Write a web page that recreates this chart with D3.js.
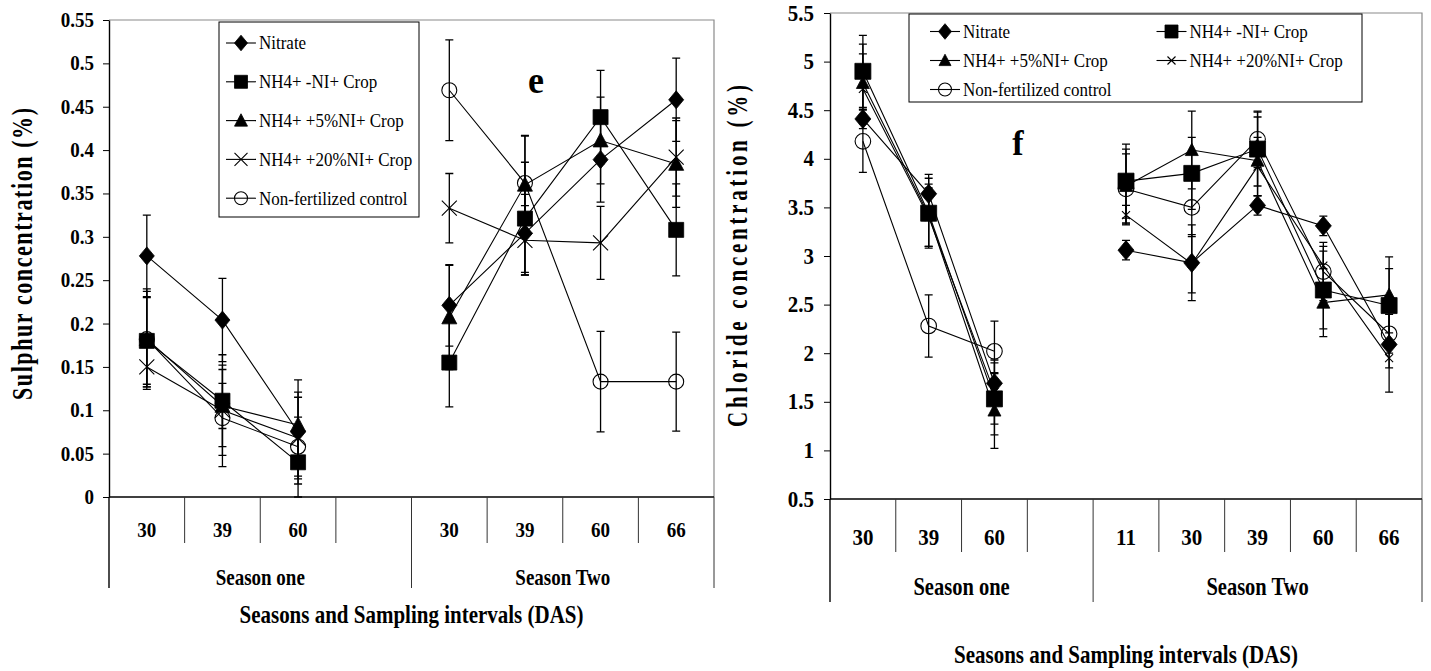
<!DOCTYPE html>
<html lang="en">
<head>
<meta charset="UTF-8">
<title>Sulphur and chloride concentration by season and sampling interval</title>
<script src="https://d3js.org/d3.v7.min.js"></script>
<style>
  body { margin: 0; background: #fff; }
  svg text { font-family: "Liberation Serif", "Times New Roman", serif !important; fill: #000; }
</style>
</head>
<body>
<svg id="chart" width="1431" height="671"></svg>
<script>
// ---- data ----
const seriesNames = ["Nitrate", "NH4+ -NI+ Crop", "NH4+ +5%NI+ Crop", "NH4+ +20%NI+ Crop", "Non-fertilized control"];
const seriesMarkers = ["diamond", "square", "triangle", "cross", "circle"];

// panel e : sulphur
const sulphurCategories = ["30", "39", "60", "", "30", "39", "60", "66"];
const sulphurSeasons = ["Season one", "Season Two"];
const sulphurSeasonSizes = [4, 4];
const sulphurTicks = [0, 0.05, 0.1, 0.15, 0.2, 0.25, 0.3, 0.35, 0.4, 0.45, 0.5, 0.55];
const sulphurTickLabels = ["0", "0.05", "0.1", "0.15", "0.2", "0.25", "0.3", "0.35", "0.4", "0.45", "0.5", "0.55"];
const sulphurValues = [
  [0.278, 0.204, 0.075, null, 0.221, 0.304, 0.389, 0.458],
  [0.180, 0.111, 0.040, null, 0.155, 0.321, 0.438, 0.308],
  [0.182, 0.105, 0.083, null, 0.207, 0.360, 0.411, 0.384],
  [0.150, 0.100, 0.068, null, 0.333, 0.296, 0.293, 0.392],
  [0.182, 0.091, 0.058, null, 0.469, 0.362, 0.133, 0.133]
];
const sulphurErrors = [
  [0.047, 0.048, 0.060, null, 0.047, 0.045, 0.049, 0.048],
  [0.050, 0.053, 0.040, null, 0.051, 0.065, 0.054, 0.053],
  [0.058, 0.026, 0.038, null, 0.060, 0.056, 0.050, 0.050],
  [0.023, 0.052, 0.047, null, 0.040, 0.040, 0.042, 0.045],
  [0.055, 0.056, 0.034, null, 0.058, 0.055, 0.058, 0.057]
];

// panel f : chloride
const chlorideCategories = ["30", "39", "60", "", "11", "30", "39", "60", "66"];
const chlorideSeasons = ["Season one", "Season Two"];
const chlorideSeasonSizes = [4, 5];
const chlorideTicks = [0.5, 1, 1.5, 2, 2.5, 3, 3.5, 4, 4.5, 5, 5.5];
const chlorideTickLabels = ["0.5", "1", "1.5", "2", "2.5", "3", "3.5", "4", "4.5", "5", "5.5"];
const chlorideValues = [
  [4.41, 3.64, 1.69, null, 3.06, 2.93, 3.52, 3.31, 2.09],
  [4.90, 3.44, 1.53, null, 3.77, 3.85, 4.10, 2.65, 2.49],
  [4.78, 3.42, 1.41, null, 3.72, 4.09, 3.98, 2.52, 2.60],
  [4.72, 3.40, 1.60, null, 3.42, 2.92, 3.92, 2.90, 1.95],
  [4.18, 2.28, 2.02, null, 3.69, 3.50, 4.20, 2.84, 2.20]
];
const chlorideErrors = [
  [0.10, 0.20, 0.10, null, 0.10, 0.39, 0.10, 0.10, 0.49],
  [0.37, 0.36, 0.37, null, 0.38, 0.37, 0.38, 0.40, 0.38],
  [0.40, 0.32, 0.39, null, 0.38, 0.40, 0.45, 0.35, 0.39],
  [0.36, 0.30, 0.33, null, 0.10, 0.30, 0.30, 0.20, 0.10],
  [0.32, 0.32, 0.31, null, 0.36, 0.30, 0.29, 0.30, 0.20]
];

// ---- drawing ----
const svg = d3.select("#chart");

// the source figure uses a tall, narrow serif: stretch glyphs vertically around their centre
function stretch(sel, k) {
  sel.style("transform-box", "fill-box")
    .style("transform-origin", "center")
    .style("transform", `scaleY(${k})`);
}

function markerPath(type, s) {
  if (type === "diamond") return `M0,${-s * 1.2}L${s},0L0,${s * 1.2}L${-s},0Z`;
  if (type === "square") return `M${-s},${-s}h${2 * s}v${2 * s}h${-2 * s}Z`;
  if (type === "triangle") return `M0,${-s * 1.05}L${s},${s * 0.85}L${-s},${s * 0.85}Z`;
  if (type === "cross") return `M${-s},${-s}L${s},${s}M${s},${-s}L${-s},${s}`;
  return `M${s},0A${s},${s} 0 1,1 ${-s},0A${s},${s} 0 1,1 ${s},0Z`;
}

function drawMarker(g, type, x, y, size) {
  const filled = type === "diamond" || type === "square" || type === "triangle";
  g.append("path")
    .attr("transform", `translate(${x},${y})`)
    .attr("d", markerPath(type, size[type]))
    .attr("fill", filled ? "#000" : "none")
    .attr("stroke", "#000")
    .attr("stroke-width", filled ? 0.8 : 1.1);
}

function drawPanel(p) {
  const g = svg.append("g");
  const n = p.categories.length;

  const x = d3.scaleBand().domain(d3.range(n)).range([p.left, p.right]).padding(0);
  const y = d3.scaleLinear().domain(p.domain).range([p.bottom, p.top]);

  // frame: grey top and right
  g.append("path")
    .attr("d", `M${p.left},${p.top}H${p.right}V${p.bottom}`)
    .attr("fill", "none").attr("stroke", "#8a8a8a").attr("stroke-width", 1.2);

  // y axis
  const yAxis = g.append("g")
    .attr("transform", `translate(${p.left},0)`)
    .call(d3.axisLeft(y).tickValues(p.ticks)
      .tickFormat((d, i) => p.tickLabels[i])
      .tickSize(6).tickSizeOuter(0).tickPadding(p.tickPad));
  yAxis.select(".domain").attr("stroke", "#000").attr("stroke-width", 1.4);
  yAxis.selectAll("text")
    .attr("font-size", p.tickFont).attr("font-weight", "bold")
    .call(stretch, 1.06);

  // x axis line
  g.append("line")
    .attr("x1", p.left).attr("x2", p.right)
    .attr("y1", p.bottom).attr("y2", p.bottom)
    .attr("stroke", "#000").attr("stroke-width", 1.4);

  // category labels
  const cx = i => x(i) + x.bandwidth() / 2;
  g.selectAll(".cat")
    .data(p.categories)
    .join("text")
    .attr("class", "cat")
    .attr("x", (d, i) => cx(i)).attr("y", p.bottom + p.catLabelOffset)
    .attr("text-anchor", "middle").attr("dominant-baseline", "central")
    .attr("font-size", p.catFont).attr("font-weight", "bold")
    .text(d => d)
    .call(stretch, 1.1);

  // separators between categories, long ones between seasons
  const seasonEdges = [0];
  p.seasonSizes.forEach(s => seasonEdges.push(seasonEdges[seasonEdges.length - 1] + s));
  for (let i = 0; i <= n; i++) {
    const xx = i === n ? p.right : x(i);
    const long = seasonEdges.includes(i);
    g.append("line")
      .attr("x1", xx).attr("x2", xx)
      .attr("y1", p.bottom).attr("y2", long ? p.seasonBottom : p.tickBottom)
      .attr("stroke", i === 0 ? "#000" : "#333")
      .attr("stroke-width", i === 0 ? 1.4 : 1);
  }
  p.seasons.forEach((s, k) => {
    const x0 = x(seasonEdges[k]);
    const x1 = seasonEdges[k + 1] === n ? p.right : x(seasonEdges[k + 1]);
    g.append("text")
      .attr("x", (x0 + x1) / 2).attr("y", p.seasonLabelY)
      .attr("text-anchor", "middle").attr("dominant-baseline", "central")
      .attr("font-size", p.seasonFont).attr("font-weight", "bold")
      .text(s)
      .call(stretch, 1.22);
  });

  // axis titles
  g.append("text")
    .attr("x", (p.left + p.right) / 2).attr("y", p.xTitleY)
    .attr("text-anchor", "middle").attr("dominant-baseline", "central")
    .attr("font-size", p.xTitleFont).attr("font-weight", "bold")
    .text("Seasons and Sampling intervals (DAS)")
    .call(stretch, 1.18);
  g.append("text")
    .attr("transform", `translate(${p.yTitleX},${p.yTitleY}) rotate(-90) scale(1,${p.yTitleStretch})`)
    .attr("text-anchor", "middle").attr("dominant-baseline", "central")
    .attr("font-size", p.yTitleFont).attr("font-weight", "bold")
    .attr("textLength", p.yTitleLength).attr("lengthAdjust", "spacing")
    .text(p.yTitle);

  // panel letter
  g.append("text")
    .attr("x", p.letterX).attr("y", p.letterY)
    .attr("text-anchor", "middle").attr("dominant-baseline", "central")
    .attr("font-size", p.letterFont).attr("font-weight", "bold")
    .text(p.letter)
    .call(stretch, 1.08);

  // series
  const line = d3.line()
    .defined(d => d.v !== null)
    .x(d => cx(d.i)).y(d => y(d.v));

  p.values.forEach((vals, s) => {
    const pts = vals.map((v, i) => ({ i, v, e: p.errors[s][i] }));
    g.append("path")
      .datum(pts)
      .attr("d", line)
      .attr("fill", "none").attr("stroke", "#000").attr("stroke-width", 1.1);

    pts.filter(d => d.v !== null).forEach(d => {
      const xx = cx(d.i);
      const y0 = y(d.v - d.e), y1 = y(d.v + d.e);
      g.append("path")
        .attr("d", `M${xx},${y0}V${y1}M${xx - 4},${y0}H${xx + 4}M${xx - 4},${y1}H${xx + 4}`)
        .attr("fill", "none").attr("stroke", "#000").attr("stroke-width", 1.3);
    });
  });
  p.values.forEach((vals, s) => {
    vals.forEach((v, i) => {
      if (v === null) return;
      drawMarker(g, seriesMarkers[s], cx(i), y(v), p.markerSize);
    });
  });

  // legend
  const L = p.legend;
  g.append("rect")
    .attr("x", L.x).attr("y", L.y).attr("width", L.w).attr("height", L.h)
    .attr("fill", "#fff").attr("stroke", "#000").attr("stroke-width", 1);
  seriesNames.forEach((name, s) => {
    const col = s % L.cols, row = Math.floor(s / L.cols);
    const lx = L.x + L.padX + col * L.colW;
    const ly = L.y + L.padY + row * L.rowH;
    g.append("line")
      .attr("x1", lx).attr("x2", lx + L.lineW)
      .attr("y1", ly).attr("y2", ly)
      .attr("stroke", "#000").attr("stroke-width", 1.1);
    drawMarker(g, seriesMarkers[s], lx + L.lineW / 2, ly, L.markerSize);
    g.append("text")
      .attr("x", lx + L.lineW + 3).attr("y", ly)
      .attr("dominant-baseline", "central")
      .attr("font-size", L.font)
      .text(name)
      .call(stretch, 1.12);
  });
}

drawPanel({
  categories: sulphurCategories, seasons: sulphurSeasons, seasonSizes: sulphurSeasonSizes,
  ticks: sulphurTicks, tickLabels: sulphurTickLabels, domain: [0, 0.55],
  values: sulphurValues, errors: sulphurErrors,
  left: 109, right: 714, top: 20, bottom: 497,
  tickBottom: 543, seasonBottom: 588, catLabelOffset: 33, seasonLabelY: 577,
  tickPad: 9, tickFont: 19, catFont: 19, seasonFont: 19,
  xTitleY: 615, xTitleFont: 21,
  yTitle: "Sulphur concentration (%)", yTitleX: 22, yTitleY: 254, yTitleFont: 22,
  yTitleLength: 292, yTitleStretch: 1.3,
  letter: "e", letterX: 536, letterY: 80, letterFont: 36,
  markerSize: { diamond: 7.5, square: 7.5, triangle: 7.5, cross: 7.5, circle: 7.5 },
  legend: { x: 219, y: 22, w: 200, h: 195, cols: 1, colW: 0, rowH: 38.8, padX: 7, padY: 21,
    lineW: 30, font: 17, markerSize: { diamond: 6.5, square: 6.5, triangle: 6.5, cross: 6.5, circle: 6.5 } }
});

drawPanel({
  categories: chlorideCategories, seasons: chlorideSeasons, seasonSizes: chlorideSeasonSizes,
  ticks: chlorideTicks, tickLabels: chlorideTickLabels, domain: [0.5, 5.5],
  values: chlorideValues, errors: chlorideErrors,
  left: 830, right: 1422, top: 13, bottom: 499,
  tickBottom: 552, seasonBottom: 602, catLabelOffset: 38, seasonLabelY: 587,
  tickPad: 10, tickFont: 21, catFont: 21, seasonFont: 20.5,
  xTitleY: 655, xTitleFont: 21,
  yTitle: "Chloride concentration (%)", yTitleX: 737, yTitleY: 256, yTitleFont: 21,
  yTitleLength: 342, yTitleStretch: 1.4,
  letter: "f", letterX: 1018, letterY: 143, letterFont: 34,
  markerSize: { diamond: 8, square: 8, triangle: 6.5, cross: 4, circle: 7.8 },
  legend: { x: 909, y: 14, w: 453, h: 88, cols: 2, colW: 226.5, rowH: 29, padX: 21, padY: 17.5,
    lineW: 30, font: 17, markerSize: { diamond: 6.5, square: 6.5, triangle: 6, cross: 4, circle: 6.5 } }
});
</script>
</body>
</html>
